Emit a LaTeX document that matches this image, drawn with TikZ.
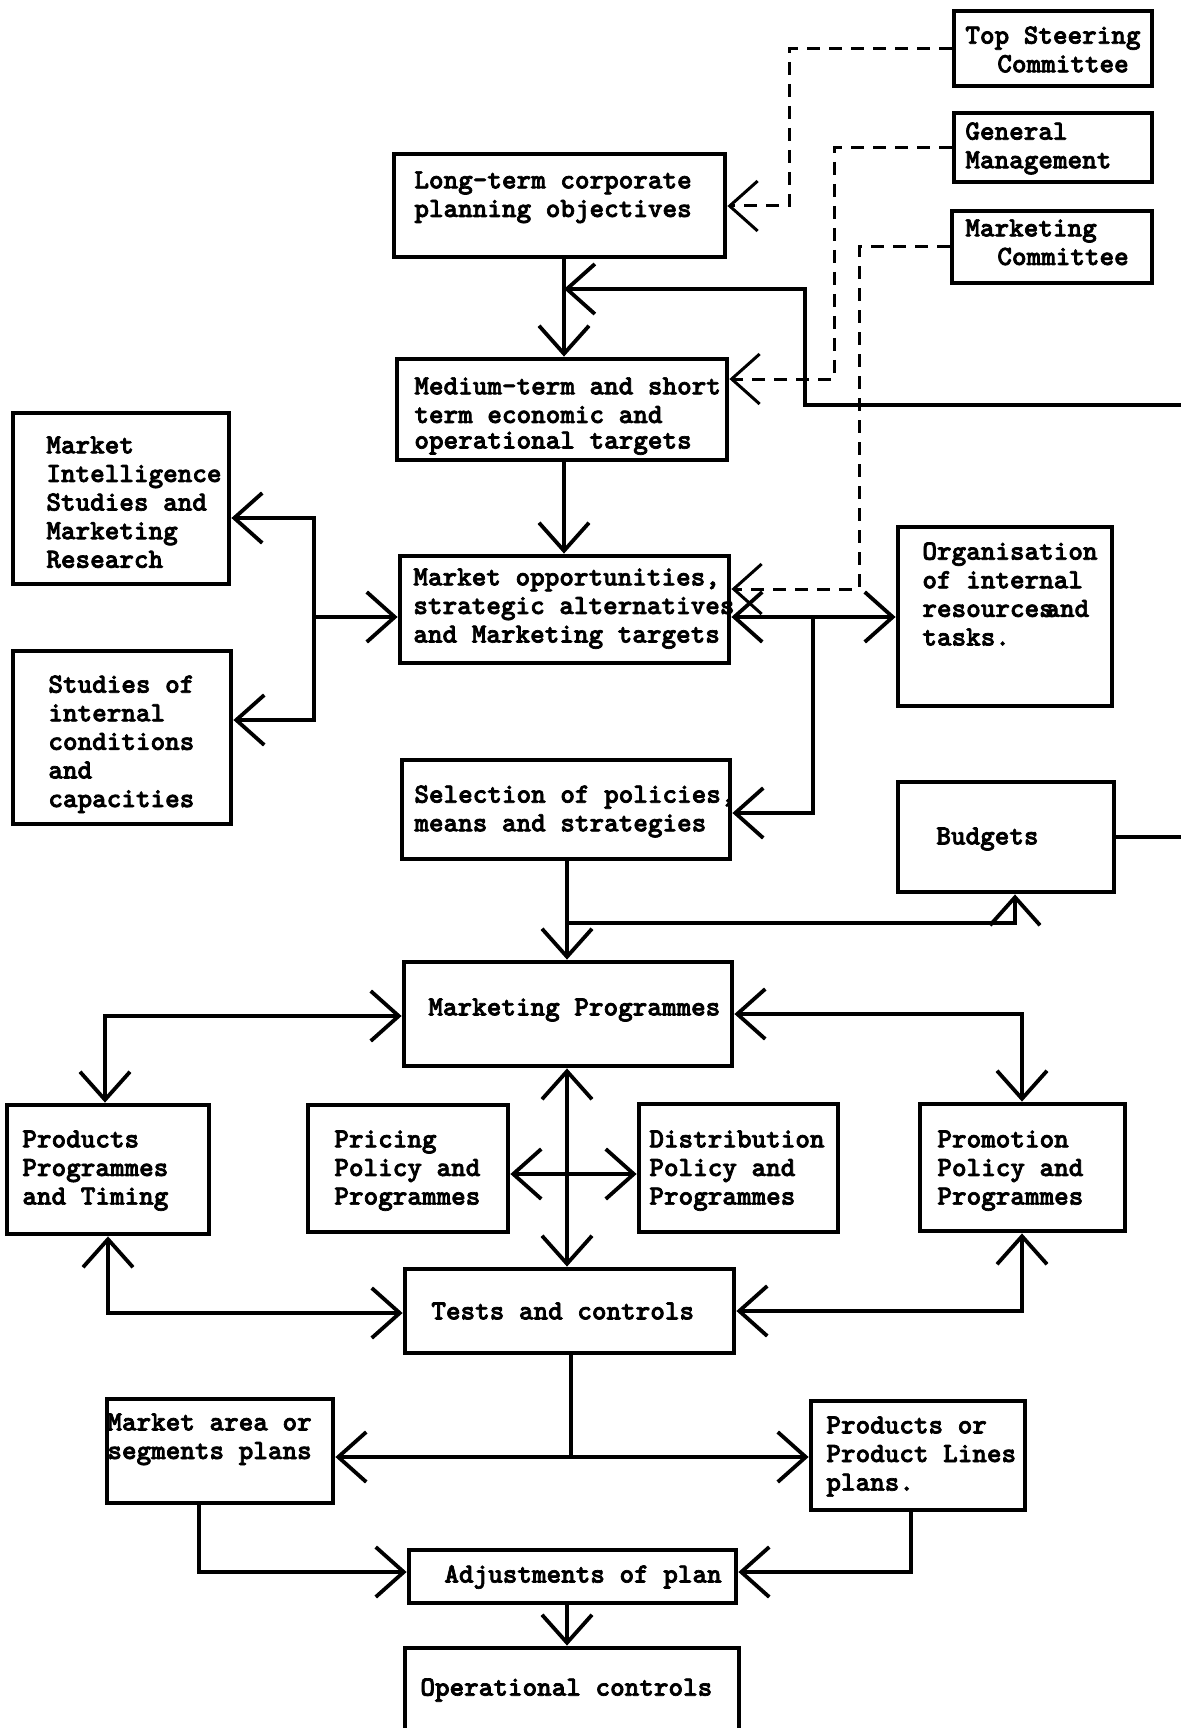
\documentclass[tikz,border=0pt]{standalone}
\usepackage{fontspec}
\newfontfamily\tw{lmmonolt10-bold.otf}[FakeBold=2.5]
\usetikzlibrary{arrows.meta,fit}
\tikzset{
  box/.style={draw, line width=2.4pt, inner sep=0pt, fill=none},
  txt/.style={inner sep=0pt, align=left, font=\tw\fontsize{13.9}{14.3}\selectfont},
  conn/.style={line width=1.9pt, line join=miter},
  dsh/.style={line width=1.5pt, dash pattern=on 6.5pt off 4.5pt},
  arr/.style={-{Straight Barb[length=14pt,width=25pt]}},
  darr/.style={{Straight Barb[length=14pt,width=25pt]}-{Straight Barb[length=14pt,width=25pt]}},
}
\newcommand\bx[5]{\path (#2,#3) coordinate (#1-nw) (#4,#5) coordinate (#1-se);
  \node[box, fit=(#1-nw)(#1-se)] (#1) {};}
\begin{document}
\begin{tikzpicture}[x=0.5pt,y=-0.5pt]
\useasboundingbox (0,0) rectangle (1180,1728);
% boxes
\bx{ts}{954}{11}{1152}{86}
\bx{gm}{954}{113}{1152}{182}
\bx{mc}{952}{211}{1152}{283}
\bx{lt}{394}{154}{725}{257}
\bx{med}{397}{359}{727}{460}
\bx{mi}{13}{413}{229}{584}
\bx{mo}{400}{556}{729}{663}
\bx{org}{898}{527}{1112}{706}
\bx{si}{13}{651}{231}{824}
\bx{sel}{402}{760}{730}{859}
\bx{bud}{898}{782}{1114}{892}
\bx{mp}{404}{962}{732}{1066}
\bx{pp}{7}{1105}{209}{1234}
\bx{pr}{308}{1105}{508}{1232}
\bx{di}{639}{1104}{838}{1232}
\bx{pm}{920}{1104}{1125}{1231}
\bx{tc}{405}{1269}{734}{1353}
\bx{ma}{107}{1399}{333}{1503}
\bx{pl}{811}{1401}{1025}{1510}
\bx{adj}{409}{1550}{736}{1603}
\bx{op}{405}{1648}{739}{1740}
% texts
\node[txt, anchor=north west] (tts) at (965,26) {Top Steering\\\hspace*{1.15em}Committee};
\node[txt, anchor=north west] (tgm) at (965,122) {General\\Management};
\node[txt, anchor=north west] (tmc) at (965,219) {Marketing\\\hspace*{1.15em}Committee};
\node[txt, anchor=north west] (tlt) at (414,171) {Long-term corporate\\planning objectives};
\node[txt, anchor=north west] (tmed) at (414,377) {Medium-term and short\\term economic and\\[-1.5pt]operational targets};
\node[txt, anchor=north west] (tmi) at (46,436) {Market\\Intelligence\\Studies and\\Marketing\\Research};
\node[txt, anchor=north west] (tmo) at (413,568) {Market opportunities,\\strategic alternatives\\and Marketing targets};
\node[txt, anchor=north west] (torg) at (922,542) {Organisation\\of internal\\resources\hspace{-0.3em}and\\tasks.};
\node[txt, anchor=north west] (tsi) at (48,675) {Studies of\\internal\\conditions\\and\\capacities};
\node[txt, anchor=north west] (tsel) at (414,785) {Selection of policies,\\means and strategies};
\node[txt, anchor=west] (tbud) at (936,839) {Budgets};
\node[txt, anchor=west] (tmp) at (428,1010) {Marketing Programmes};
\node[txt, anchor=north west] (tpp) at (22,1130) {Products\\Programmes\\and Timing};
\node[txt, anchor=north west] (tpr) at (334,1130) {Pricing\\Policy and\\Programmes};
\node[txt, anchor=north west] (tdi) at (649,1130) {Distribution\\Policy and\\Programmes};
\node[txt, anchor=north west] (tpm) at (937,1130) {Promotion\\Policy and\\Programmes};
\node[txt, anchor=west] (ttc) at (431,1311) {Tests and controls};
\node[txt, anchor=north west] (tma) at (107,1413) {Market area or\\segments plans};
\node[txt, anchor=north west] (tpl) at (826,1416) {Products or\\Product Lines\\plans.};
\node[txt, anchor=west] (tadj) at (444,1577) {Adjustments of plan};
\node[txt, anchor=west] (top) at (420,1690) {Operational controls};
% dashed connectors
\draw[dsh, arr] (ts.west) -| (789,206) -- (lt.east |- 0,206);
\draw[dsh, arr] (gm.west) -| (834,379) -- (med.east |- 0,379);
\draw[dsh, arr] (mc.west) -| (859,589) -- (mo.east |- 0,589);
% solid connectors
\coordinate (fbR) at (1184,405);
\coordinate (fbL) at (564,289);
\draw[conn, arr] (lt.south -| 564,0) -- (med.north -| 564,0);
\draw[conn, arr] (fbR) -- (805,405) -- (805,289) -- (fbL);
\draw[conn, arr] (med.south -| 564,0) -- (mo.north -| 564,0);
\draw[conn, arr] (314,617) -- (mo.west |- 0,617);
\draw[conn, darr] (mi.east |- 0,518) -- (314,518) -- (314,720) -- (si.east |- 0,720);
\draw[conn, darr] (mo.east |- 0,617) -- (org.west |- 0,617);
\draw[conn, arr] (813,617) -- (813,813) -- (sel.east |- 0,813);
\draw[conn, arr] (sel.south -| 567,0) -- (mp.north -| 567,0);
\draw[conn, arr] (567,923) -- (1015,923) -- (bud.south -| 1015,0);
\coordinate (budR) at (1184,837);
\draw[conn] (bud.east) -- (budR);
\draw[conn, darr] (pp.north -| 105,0) -- (105,1016) -- (mp.west |- 0,1016);
\draw[conn, darr] (pm.north -| 1022,0) -- (1022,1014) -- (mp.east |- 0,1014);
\draw[conn, darr] (mp.south -| 567,0) -- (tc.north -| 567,0);
\draw[conn, darr] (pr.east |- 0,1174) -- (di.west |- 0,1174);
\draw[conn, darr] (pp.south -| 108,0) -- (108,1313) -- (tc.west |- 0,1313);
\draw[conn, darr] (pm.south -| 1022,0) -- (1022,1311) -- (tc.east |- 0,1311);
\draw[conn] (tc.south -| 571,0) -- (571,1457);
\draw[conn, darr] (ma.east |- 0,1457) -- (pl.west |- 0,1457);
\draw[conn, arr] (ma.south -| 199,0) -- (199,1572) -- (adj.west |- 0,1572);
\draw[conn, arr] (pl.south -| 911,0) -- (911,1572) -- (adj.east |- 0,1572);
\draw[conn, arr] (adj.south -| 567,0) -- (op.north -| 567,0);
\end{tikzpicture}
\end{document}
